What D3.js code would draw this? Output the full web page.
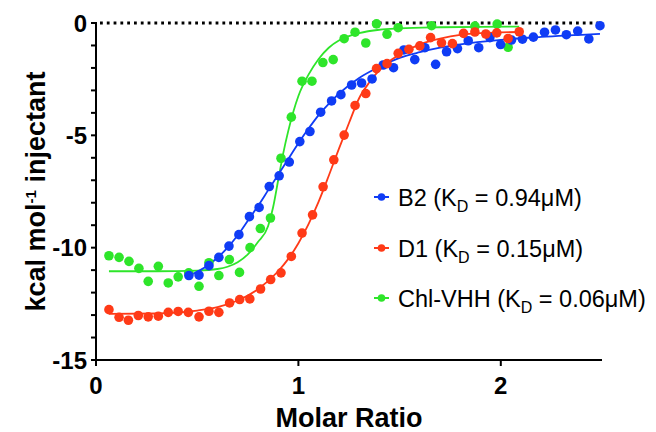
<!DOCTYPE html>
<html>
<head>
<meta charset="utf-8">
<style>
    body { margin: 0; background: #fff; }
    svg { display: block; }
    .tick-label { font-family: "Liberation Sans", Arial, Helvetica, sans-serif; font-weight: bold; font-size: 24px; fill: #000; }
    .axis-title { font-family: "Liberation Sans", Arial, Helvetica, sans-serif; font-weight: bold; font-size: 27px; fill: #000; }
    .legend { font-family: "Liberation Sans", Arial, Helvetica, sans-serif; font-size: 23.5px; fill: #000; }
</style>
</head>
<body>
<svg width="656" height="432"></svg>
<script src="https://d3js.org/d3.v7.min.js"></script>
<script>

// ---- data ----
const b2X = [0.459, 0.509, 0.558, 0.607, 0.657, 0.706, 0.758, 0.806, 0.856, 0.905, 0.955, 1.007, 1.057, 1.110, 1.164, 1.210, 1.263, 1.312, 1.364, 1.419, 1.470, 1.521, 1.575, 1.625, 1.678, 1.732, 1.786, 1.839, 1.891, 1.946, 1.999, 2.053, 2.107, 2.161, 2.216, 2.270, 2.324, 2.380, 2.435, 2.490]
const b2Y = [-11.24, -11.22, -10.8, -10.43, -9.93, -9.42, -8.62, -8.21, -7.28, -6.8, -6.19, -5.28, -4.83, -3.97, -3.47, -3.19, -2.76, -2.67, -2.49, -1.87, -1.99, -1.2, -1.63, -1.1, -1.84, -1.28, -1.14, -0.79, -1.1, -0.65, -0.96, -0.76, -0.72, -0.63, -0.41, -0.31, -0.52, -0.36, -0.71, -0.12]

const d1X = [0.064, 0.114, 0.160, 0.209, 0.258, 0.308, 0.357, 0.406, 0.456, 0.509, 0.558, 0.607, 0.660, 0.710, 0.760, 0.813, 0.863, 0.914, 0.965, 1.018, 1.070, 1.122, 1.175, 1.226, 1.280, 1.333, 1.386, 1.438, 1.493, 1.546, 1.600, 1.653, 1.707, 1.761, 1.816, 1.872, 1.926, 1.980, 2.036, 2.091]
const d1Y = [-12.76, -13.1, -13.23, -13.02, -13.08, -13.05, -12.88, -12.84, -12.88, -13.08, -12.83, -12.88, -12.46, -12.31, -12.28, -11.84, -11.42, -11.12, -10.39, -9.35, -8.54, -7.29, -6.09, -4.99, -3.67, -3.14, -2.03, -1.81, -1.35, -1.17, -1.02, -0.65, -0.88, -0.92, -0.46, -0.4, -0.49, -0.44, -0.69, -0.39]

const chlX = [0.064, 0.114, 0.163, 0.212, 0.258, 0.308, 0.357, 0.406, 0.458, 0.509, 0.558, 0.607, 0.659, 0.709, 0.761, 0.812, 0.862, 0.914, 0.965, 1.018, 1.067, 1.121, 1.172, 1.226, 1.280, 1.333, 1.386, 1.438, 1.493, 1.658, 1.872, 1.982, 2.036]
const chlY = [-10.36, -10.43, -10.61, -10.92, -11.5, -10.83, -11.57, -11.3, -11.12, -11.72, -10.67, -11.24, -10.53, -11.1, -10.0, -9.15, -8.68, -6.02, -4.19, -2.59, -2.59, -1.76, -1.63, -0.7, -0.41, -0.89, -0.04, -0.5, -0.21, -0.12, -0.14, -0.05, -1.08]

// fitted curves
const b2FitX = [0.459, 0.55, 0.6, 0.65, 0.7, 0.75, 0.8, 0.85, 0.9, 0.95, 1.0, 1.05, 1.1, 1.15, 1.2, 1.3, 1.4, 1.5, 1.6, 1.7, 1.8, 2.0, 2.2, 2.49]
const b2FitY = [-11.25, -10.8, -10.45, -10.0, -9.45, -8.8, -8.15, -7.45, -6.75, -6.05, -5.35, -4.7, -4.1, -3.6, -3.15, -2.45, -1.95, -1.55, -1.3, -1.1, -0.95, -0.75, -0.62, -0.48]

const d1FitX = [0.064, 0.3, 0.5, 0.6, 0.7, 0.8, 0.9, 0.95, 1.0, 1.05, 1.1, 1.15, 1.2, 1.25, 1.3, 1.35, 1.4, 1.45, 1.5, 1.6, 1.7, 1.8, 1.9, 2.0, 2.091]
const d1FitY = [-12.95, -12.93, -12.8, -12.65, -12.35, -11.85, -11.05, -10.5, -9.8, -8.95, -7.95, -6.8, -5.6, -4.45, -3.35, -2.65, -2.1, -1.7, -1.4, -0.95, -0.7, -0.53, -0.45, -0.42, -0.4]

const chlFitX = [0.064, 0.3, 0.5, 0.6, 0.65, 0.7, 0.75, 0.8, 0.85, 0.875, 0.9, 0.925, 0.95, 0.975, 1.0, 1.05, 1.1, 1.15, 1.2, 1.25, 1.3, 1.4, 1.5, 1.7, 1.9, 2.091]
const chlFitY = [-11.05, -11.05, -11.02, -10.95, -10.85, -10.65, -10.3, -9.75, -9.05, -8.2, -7.0, -5.8, -4.8, -3.95, -3.25, -2.3, -1.6, -1.1, -0.78, -0.58, -0.45, -0.3, -0.24, -0.19, -0.17, -0.16]

const seriesNames = ["B2", "D1", "Chl-VHH"]
const kdValues = ["0.94μM", "0.15μM", "0.06μM"]
const colors = ["#0f3cf5", "#ff3a17", "#2ee52a"]

const xTicks = [0, 1, 2]
const yMajor = [0, -5, -10, -15]
const yMinor = d3.range(0, -16, -1)

// ---- layout ----
const svg = d3.select("svg")

const x = d3.scaleLinear().domain([0, 2.5]).range([96, 602])
const y = d3.scaleLinear().domain([-15, 0]).range([360, 23])

// zero reference (dotted)
svg.append("line")
    .attr("x1", x(0) + 4).attr("x2", x(2.5) - 4)
    .attr("y1", y(0)).attr("y2", y(0))
    .attr("stroke", "#000")
    .attr("stroke-width", 2.8)
    .attr("stroke-dasharray", "2.8,4")

// y axis
let yAxis = svg.append("g")
yAxis.append("line")
    .attr("x1", x(0)).attr("x2", x(0))
    .attr("y1", y(0) - 1).attr("y2", y(-15) + 1)
    .attr("stroke", "#000").attr("stroke-width", 2)
yAxis.selectAll(".minor")
    .data(yMinor)
    .join("line")
    .attr("x1", x(0) - 5).attr("x2", x(0))
    .attr("y1", d => y(d)).attr("y2", d => y(d))
    .attr("stroke", "#000").attr("stroke-width", 2)
yAxis.selectAll(".tick-label")
    .data(yMajor)
    .join("text")
    .attr("class", "tick-label")
    .attr("x", x(0) - 9)
    .attr("y", d => y(d) + 8.5)
    .attr("text-anchor", "end")
    .text(d => d)

// x axis
let xAxis = svg.append("g")
xAxis.append("line")
    .attr("x1", x(0) - 1).attr("x2", x(2.5))
    .attr("y1", y(-15)).attr("y2", y(-15))
    .attr("stroke", "#000").attr("stroke-width", 2)
xAxis.selectAll(".xt")
    .data(xTicks)
    .join("line")
    .attr("x1", d => x(d)).attr("x2", d => x(d))
    .attr("y1", y(-15)).attr("y2", y(-15) + 6)
    .attr("stroke", "#000").attr("stroke-width", 2)
xAxis.selectAll(".tick-label")
    .data(xTicks)
    .join("text")
    .attr("class", "tick-label")
    .attr("x", d => x(d))
    .attr("y", y(-15) + 34)
    .attr("text-anchor", "middle")
    .text(d => d)

// axis titles
svg.append("text")
    .attr("class", "axis-title")
    .attr("x", (x(0) + x(2.5)) / 2)
    .attr("y", 427)
    .attr("text-anchor", "middle")
    .text("Molar Ratio")

let yt = svg.append("text")
    .attr("class", "axis-title")
    .attr("transform", `translate(45, ${(y(0) + y(-15)) / 2}) rotate(-90)`)
    .attr("text-anchor", "middle")
yt.append("tspan").text("kcal mol")
yt.append("tspan").attr("dy", -9).attr("font-size", 15).text("-1")
yt.append("tspan").attr("dy", 9).text(" injectant")

// fits + points
const line = d3.line()
    .x(d => x(d[0]))
    .y(d => y(d[1]))
    .curve(d3.curveMonotoneX)

const fits = [
    d3.zip(b2FitX, b2FitY),
    d3.zip(d1FitX, d1FitY),
    d3.zip(chlFitX, chlFitY)
]
const points = [
    d3.zip(b2X, b2Y),
    d3.zip(d1X, d1Y),
    d3.zip(chlX, chlY)
]

const drawOrder = [2, 0, 1]
drawOrder.forEach(i => {
    svg.append("path")
        .datum(fits[i])
        .attr("fill", "none")
        .attr("stroke", colors[i])
        .attr("stroke-width", 1.8)
        .attr("d", line)
})
drawOrder.forEach(i => {
    svg.append("g")
        .selectAll("circle")
        .data(points[i])
        .join("circle")
        .attr("cx", d => x(d[0]))
        .attr("cy", d => y(d[1]))
        .attr("r", 4.8)
        .attr("fill", colors[i])
})

// legend
const legendY = [197, 248, 298]
seriesNames.forEach((name, i) => {
    let g = svg.append("g").attr("transform", `translate(0, ${legendY[i]})`)
    g.append("line")
        .attr("x1", 374).attr("x2", 389)
        .attr("stroke", colors[i]).attr("stroke-width", 2)
    g.append("circle")
        .attr("cx", 381.5).attr("r", 3.8)
        .attr("fill", colors[i])
    let t = g.append("text")
        .attr("class", "legend")
        .attr("x", 398)
        .attr("y", 8.5)
    t.append("tspan").text(name + " (K")
    t.append("tspan").attr("dy", 6).attr("font-size", 16).text("D")
    t.append("tspan").attr("dy", -6).text(" = " + kdValues[i] + ")")
})

</script>
</body>
</html>
